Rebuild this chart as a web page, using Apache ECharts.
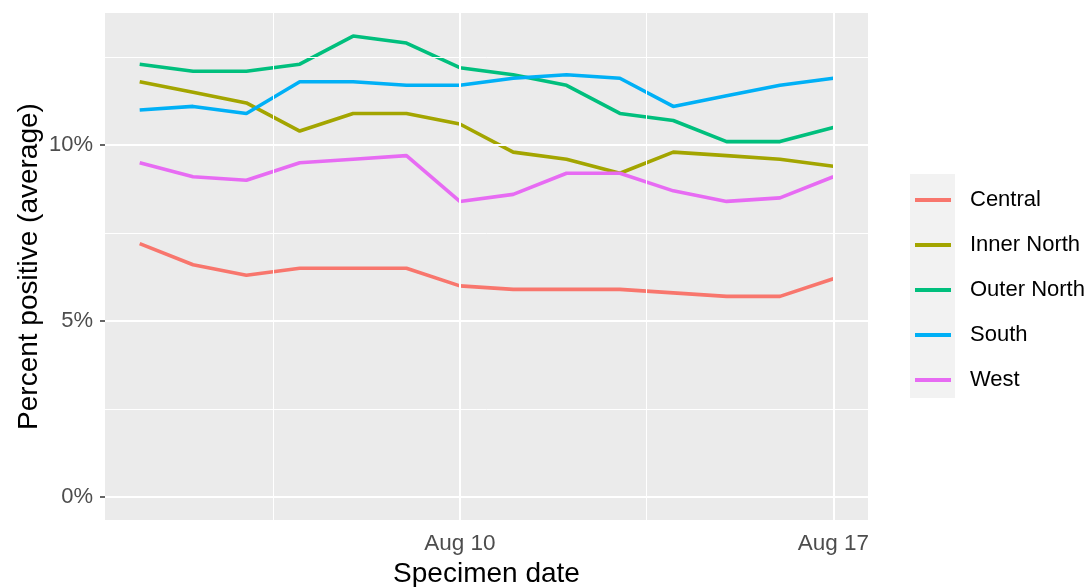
<!DOCTYPE html>
<html>
<head>
<meta charset="utf-8">
<script src="https://cdn.jsdelivr.net/npm/echarts@6/dist/echarts.min.js"></script>
<style>
html,body{margin:0;padding:0;background:#fff;}
#c{width:1091px;height:587px;}
</style>
</head>
<body>
<div id="c"></div>
<script>
// ---- data ----
var dates = ['2020-08-04','2020-08-05','2020-08-06','2020-08-07','2020-08-08','2020-08-09','2020-08-10',
             '2020-08-11','2020-08-12','2020-08-13','2020-08-14','2020-08-15','2020-08-16','2020-08-17'];
var regions = ['Central','Inner North','Outer North','South','West'];
var central    = [7.2, 6.6, 6.3, 6.5, 6.5, 6.5, 6.0, 5.9, 5.9, 5.9, 5.8, 5.7, 5.7, 6.2];
var innerNorth = [11.8, 11.5, 11.2, 10.4, 10.9, 10.9, 10.6, 9.8, 9.6, 9.2, 9.8, 9.7, 9.6, 9.4];
var outerNorth = [12.3, 12.1, 12.1, 12.3, 13.1, 12.9, 12.2, 12.0, 11.7, 10.9, 10.7, 10.1, 10.1, 10.5];
var south      = [11.0, 11.1, 10.9, 11.8, 11.8, 11.7, 11.7, 11.9, 12.0, 11.9, 11.1, 11.4, 11.7, 11.9];
var west       = [9.5, 9.1, 9.0, 9.5, 9.6, 9.7, 8.4, 8.6, 9.2, 9.2, 8.7, 8.4, 8.5, 9.1];
var yMajorTicks = [0, 5, 10];
var yMinorTicks = [2.5, 7.5, 12.5];
var xMajorTicks = ['2020-08-10','2020-08-17'];
var xMinorTicks = ['2020-08-06T12:00:00','2020-08-13T12:00:00'];

// ---- build ----
function ts(s){ if (s.length === 10) s += 'T00:00:00'; return new Date(s + 'Z').getTime(); }
var seriesValues = [central, innerNorth, outerNorth, south, west];
var colors = ['#F8766D','#A3A500','#00BF7D','#00B0F6','#E76BF3'];
var xs = dates.map(ts);
var xSpan = xs[xs.length-1] - xs[0];
var xMin = xs[0] - 0.05*xSpan, xMax = xs[xs.length-1] + 0.05*xSpan;
var allV = [].concat.apply([0], seriesValues);
var vMin = Math.min.apply(null, allV), vMax = Math.max.apply(null, allV);
var ySpan = vMax - vMin;
var yMin = vMin - 0.05*ySpan, yMax = vMax + 0.05*ySpan;

var FONT = '"Liberation Sans", Arial, sans-serif';
var gridData = [];
yMajorTicks.forEach(function(v){ gridData.push({yAxis: v, lineStyle:{width:2}}); });
yMinorTicks.forEach(function(v){ gridData.push({yAxis: v, lineStyle:{width:1}}); });
xMajorTicks.forEach(function(v){ gridData.push({xAxis: ts(v), lineStyle:{width:2}}); });
xMinorTicks.forEach(function(v){ gridData.push({xAxis: ts(v), lineStyle:{width:1}}); });

var series = [{
  type: 'line', name: '__grid', data: [], silent: true, z: 1,
  markLine: {
    silent: true, symbol: ['none','none'], animation: false,
    label: {show: false},
    lineStyle: {color: '#FFFFFF', type: 'solid'},
    emphasis: {disabled: true},
    data: gridData
  }
}];
regions.forEach(function(r, i){
  series.push({
    type: 'line', name: r, z: 3,
    data: xs.map(function(x, j){ return [x, seriesValues[i][j]]; }),
    showSymbol: false, symbol: 'none',
    lineStyle: {width: 3.6, color: colors[i]},
    itemStyle: {color: colors[i]},
    animation: false
  });
});

var chart = echarts.init(document.getElementById('c'));
chart.setOption({
  animation: false,
  grid: {left: 105, right: 223, top: 13, bottom: 67, outerBoundsMode: 'none', containLabel: false,
         show: true, backgroundColor: '#EBEBEB', borderWidth: 0},
  graphic: [{type: 'rect', left: 910, top: 174, shape: {width: 45, height: 224}, style: {fill: '#F2F2F2'}, z: -1}],
  legend: {
    data: regions, orient: 'vertical', left: 910, top: 183,
    icon: 'rect', itemWidth: 36, itemHeight: 4, itemGap: 21,
    textStyle: {fontFamily: FONT, fontSize: 22, color: '#000', lineHeight: 24, padding: [0,0,0,14]},
    selectedMode: false
  },
  xAxis: {
    type: 'value', min: xMin, max: xMax,
    name: 'Specimen date', nameLocation: 'middle', nameGap: 40,
    nameTextStyle: {fontFamily: FONT, fontSize: 28, color: '#000'},
    axisLine: {show: false},
    axisTick: {show: true, customValues: xMajorTicks.map(ts), length: 5, lineStyle: {color: '#333333', width: 1.5}},
    axisLabel: {customValues: xMajorTicks.map(ts), margin: 12, fontFamily: FONT, fontSize: 22.5, color: '#4D4D4D',
      formatter: function(v){ var d = new Date(v); return 'Aug ' + d.getUTCDate(); }},
    splitLine: {show: false}, minorSplitLine: {show: false}
  },
  yAxis: {
    type: 'value', min: yMin, max: yMax,
    name: 'Percent positive (average)', nameLocation: 'middle', nameGap: 62, nameRotate: 90,
    nameMoveOverlap: false,
    nameTextStyle: {fontFamily: FONT, fontSize: 28, color: '#000'},
    axisLine: {show: false},
    axisTick: {show: true, customValues: yMajorTicks, length: 5, lineStyle: {color: '#333333', width: 1.5}},
    axisLabel: {customValues: yMajorTicks, margin: 12, fontFamily: FONT, fontSize: 22, color: '#4D4D4D',
      formatter: function(v){ return v + '%'; }},
    splitLine: {show: false}
  },
  series: series
});
</script>
</body>
</html>
